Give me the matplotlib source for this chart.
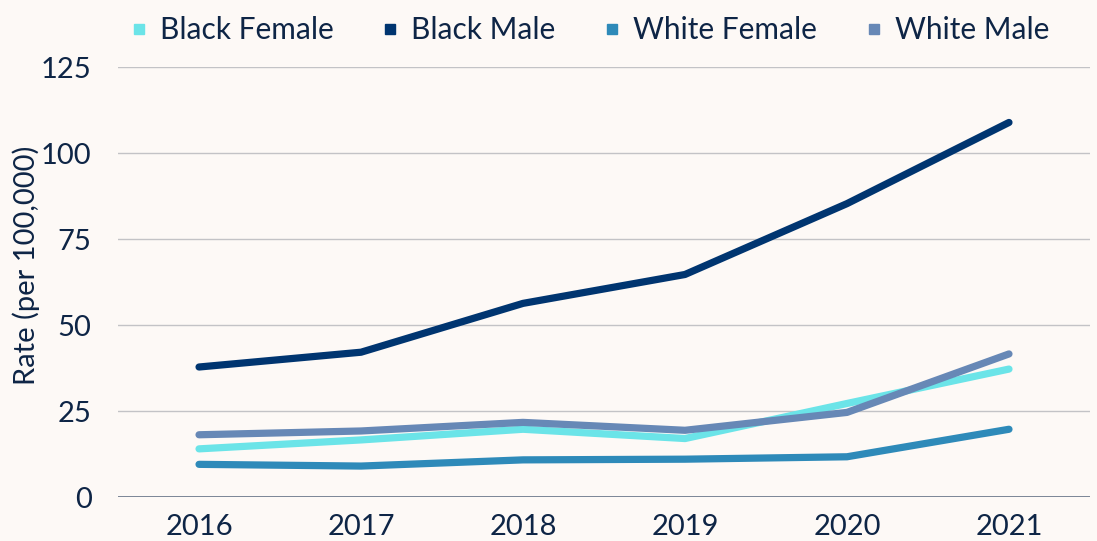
import matplotlib.pyplot as plt
from matplotlib.lines import Line2D

# Data
years = ['2016', '2017', '2018', '2019', '2020', '2021']
black_female = [14.0, 16.6, 19.7, 17.0, 27.2, 37.2]
black_male = [37.8, 42.1, 56.3, 64.7, 85.3, 108.9]
white_female = [9.5, 9.0, 10.8, 11.0, 11.7, 19.7]
white_male = [18.1, 19.2, 21.7, 19.4, 24.6, 41.6]

series = [
    ('Black Female', black_female, '#6BE4E8'),
    ('Black Male', black_male, '#003570'),
    ('White Female', white_female, '#2E8AB9'),
    ('White Male', white_male, '#6788B6'),
]

text_col = '#0E2546'
bg = '#FDF9F6'

plt.rcParams['font.family'] = ['Lato', 'DejaVu Sans']

fig = plt.figure(figsize=(10.97, 5.41), dpi=100, facecolor=bg)
ax = fig.add_axes([0.1076, 0.0813, 0.886, 0.7947], facecolor=bg)

x = list(range(len(years)))
for name, vals, col in series:
    ax.plot(x, vals, color=col, lw=5.2, solid_capstyle='round',
            solid_joinstyle='round', label=name)

ax.set_xlim(-0.5, 5.5)
ax.set_ylim(0, 125)
ax.set_yticks([0, 25, 50, 75, 100, 125])
ax.set_xticks(x)
ax.set_xticklabels(years)
ax.grid(axis='y', color='#C3C3C6', lw=1)
ax.set_axisbelow(True)
for s in ['top', 'right', 'left', 'bottom']:
    ax.spines[s].set_visible(False)
ax.axhline(0, color='#687488', lw=1.2, zorder=1)
ax.tick_params(axis='both', length=0, labelsize=21, colors=text_col)
ax.tick_params(axis='y', pad=19)
ax.tick_params(axis='x', pad=12)

fig.text(0.024, 0.51, 'Rate (per 100,000)', rotation=90, ha='center', va='center',
         fontsize=21, color=text_col)

handles = [Line2D([], [], marker='s', ls='none', color=c, markersize=7) for _, _, c in series]
fig.legend(handles, [s[0] for s in series], loc='upper center', bbox_to_anchor=(0.536, 1.02),
           ncol=4, frameon=False, fontsize=21.5, labelcolor=text_col,
           handletextpad=0.3, columnspacing=1.5, handlelength=0.8)

fig.savefig('out.png', dpi=100, facecolor=bg)
